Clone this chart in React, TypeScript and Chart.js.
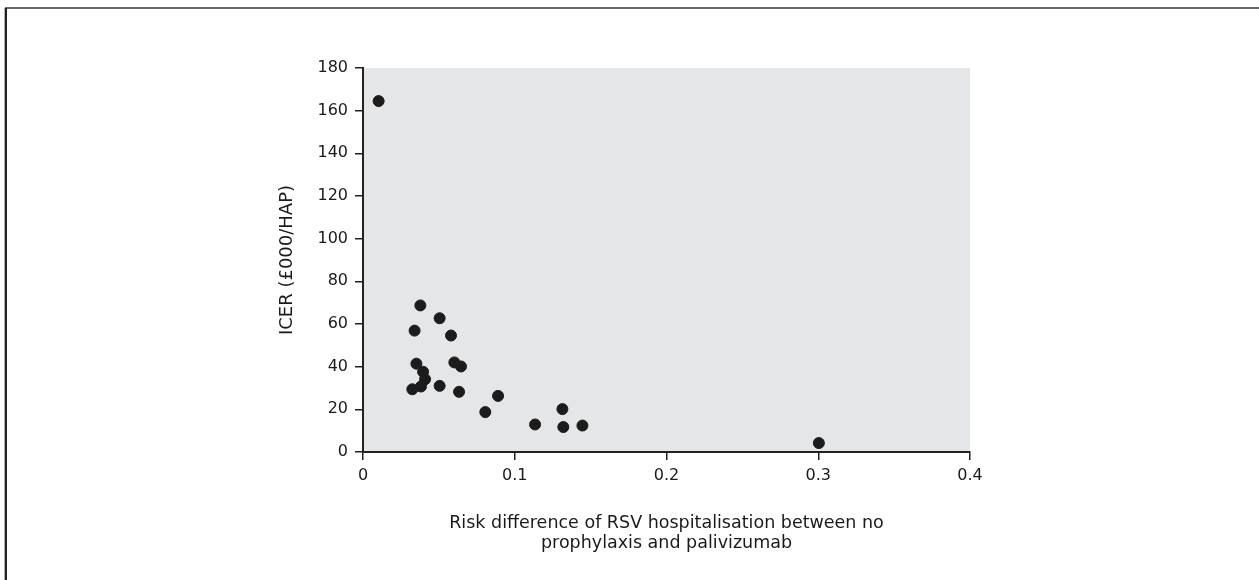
import React, { useEffect, useRef } from "react";
import { Chart, registerables } from "chart.js";

Chart.register(...registerables);

const riskDifference: number[] = [
  0.0103, 0.0378, 0.0505, 0.034, 0.058, 0.0352, 0.0602, 0.0646, 0.0396, 0.0409,
  0.0325, 0.0382, 0.0505, 0.0633, 0.089, 0.0806, 0.1314, 0.1134, 0.132, 0.1446, 0.3004,
];
const icer: number[] = [
  164.5, 68.7, 62.7, 56.9, 54.6, 41.4, 42, 40.1, 37.6, 34.1,
  29.4, 30.7, 31, 28.2, 26.3, 18.7, 20.1, 12.9, 11.7, 12.4, 4.2,
];
const xTickMin = 0;
const xTickMax = 0.4;
const xTickStep = 0.1;
const yTickMin = 0;
const yTickMax = 180;
const yTickStep = 20;
const xTitle = ["Risk difference of RSV hospitalisation between no", "prophylaxis and palivizumab"];
const yTitle = "ICER (£000/HAP)";

const FONT = "'DejaVu Sans', sans-serif";

const bgPlugin = {
  id: "bgPlugin",
  beforeDraw(chart: any) {
    const { ctx, chartArea } = chart;
    ctx.save();
    ctx.fillStyle = "#ffffff";
    ctx.fillRect(0, 0, chart.width, chart.height);
    ctx.fillStyle = "#e5e6e8";
    ctx.fillRect(chartArea.left, chartArea.top, chartArea.right - chartArea.left, chartArea.bottom - chartArea.top);
    // outer frame
    ctx.fillStyle = "#666666";
    ctx.fillRect(5, 7, chart.width - 5, 2);
    ctx.fillStyle = "#b0b0b0";
    ctx.fillRect(4, 8, 1, chart.height - 8);
    ctx.fillStyle = "#222222";
    ctx.fillRect(5, 8, 2, chart.height - 8);
    ctx.restore();
  },
};

export default function App() {
  const ref = useRef<HTMLCanvasElement | null>(null);
  useEffect(() => {
    if (!ref.current) return;
    const chart = new Chart(ref.current, {
      type: "scatter",
      data: {
        datasets: [
          {
            data: riskDifference.map((x, i) => ({ x, y: icer[i] })),
            backgroundColor: "#1c1c1c",
            borderColor: "#1c1c1c",
            pointRadius: 5.5,
            pointHoverRadius: 5.5,
          },
        ],
      },
      options: {
        responsive: false,
        animation: false,
        events: [],
        layout: { padding: { left: 270, top: 68, right: 289, bottom: 0 } },
        plugins: { legend: { display: false }, tooltip: { enabled: false } },
        scales: {
          x: {
            type: "linear",
            min: xTickMin,
            max: xTickMax,
            afterFit(scale: any) {
              scale.height = 128;
            },
            ticks: {
              stepSize: xTickStep,
              color: "#1a1a1a",
              padding: 6,
              font: { family: FONT, size: 16 },
              callback: (v: any) => String(Math.round(Number(v) * 10) / 10),
            },
            grid: {
              display: true,
              drawOnChartArea: false,
              drawTicks: true,
              tickLength: 8,
              color: "#222",
              lineWidth: 1.5,
            },
            border: { display: true, color: "#222", width: 2 },
            title: {
              display: true,
              text: xTitle,
              color: "#1a1a1a",
              font: { family: FONT, size: 17.5, lineHeight: "20px" },
              padding: { top: 0, bottom: 27 },
            },
          },
          y: {
            type: "linear",
            min: yTickMin,
            max: yTickMax,
            afterFit(scale: any) {
              scale.width = 93;
            },
            ticks: {
              stepSize: yTickStep,
              color: "#1a1a1a",
              padding: 7,
              font: { family: FONT, size: 16 },
            },
            grid: {
              display: true,
              drawOnChartArea: false,
              drawTicks: true,
              tickLength: 8,
              color: "#222",
              lineWidth: 1.5,
            },
            border: { display: true, color: "#222", width: 2 },
            title: {
              display: true,
              text: yTitle,
              color: "#1a1a1a",
              font: { family: FONT, size: 18, lineHeight: "20px" },
              padding: { top: 7, bottom: 0 },
            },
          },
        },
      },
      plugins: [bgPlugin],
    });
    return () => chart.destroy();
  }, []);
  return (
    <div style={{ position: "absolute", left: 0, top: 0, width: 1259, height: 580 }}>
      <canvas ref={ref} width={1259} height={580} style={{ display: "block", width: 1259, height: 580 }} />
    </div>
  );
}
